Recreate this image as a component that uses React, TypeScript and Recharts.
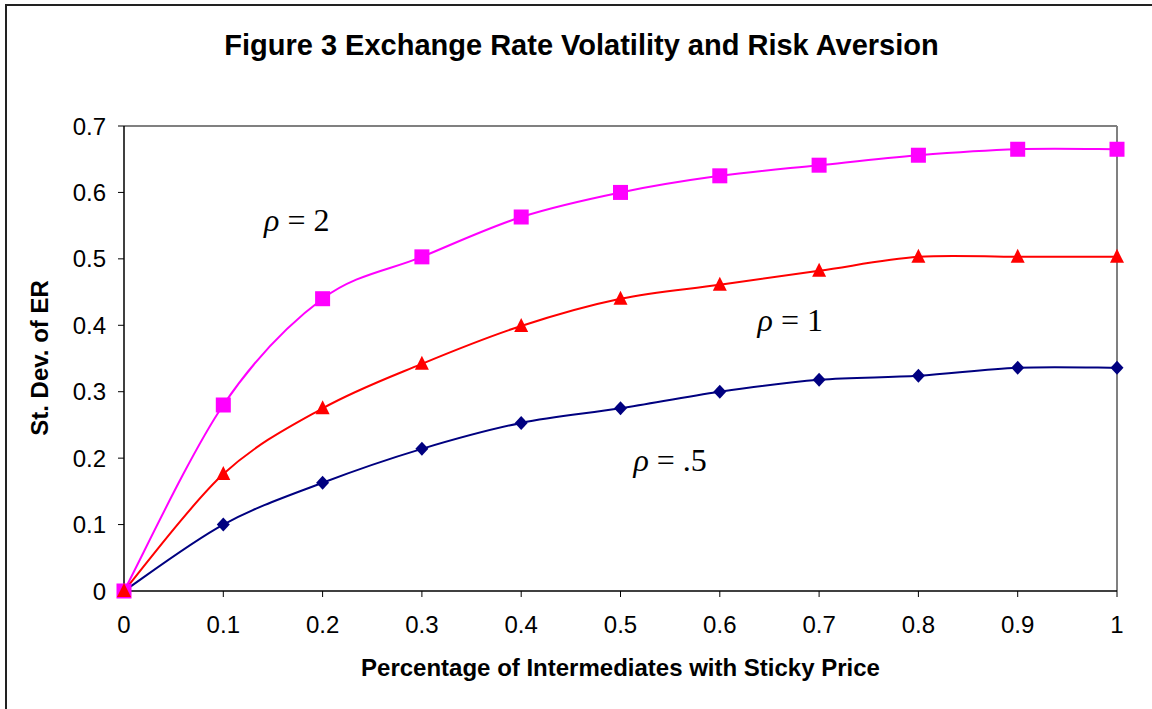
import React from "react";
import { LineChart, Line, XAxis, YAxis, ReferenceLine, ReferenceDot } from "recharts";

// share of intermediates with sticky price
const xValues = [0, 0.1, 0.2, 0.3, 0.4, 0.5, 0.6, 0.7, 0.8, 0.9, 1];
// st. dev. of exchange rate, by risk aversion
const rho2 = [0, 0.28, 0.44, 0.503, 0.563, 0.6, 0.625, 0.641, 0.656, 0.665, 0.665];
const rho1 = [0, 0.176, 0.275, 0.342, 0.399, 0.44, 0.461, 0.482, 0.503, 0.503, 0.503];
const rhoHalf = [0, 0.1, 0.163, 0.214, 0.253, 0.275, 0.3, 0.318, 0.324, 0.336, 0.336];

const xTicks = [0, 0.1, 0.2, 0.3, 0.4, 0.5, 0.6, 0.7, 0.8, 0.9, 1];
const yTicks = [0, 0.1, 0.2, 0.3, 0.4, 0.5, 0.6, 0.7];

const rhoLabels = [
  { x: 0.174, y: 0.558, text: "2" },
  { x: 0.671, y: 0.408, text: "1" },
  { x: 0.55, y: 0.197, text: ".5" },
];

const data = xValues.map((x, i) => ({
  x,
  rho2: rho2[i],
  rho1: rho1[i],
  rhoHalf: rhoHalf[i],
}));

// Excel-like smoothing (Catmull-Rom as cubic beziers)
function excelCurve(context: any) {
  let pts: number[][] = [];
  return {
    areaStart() {},
    areaEnd() {},
    lineStart() {
      pts = [];
    },
    point(x: number, y: number) {
      pts.push([+x, +y]);
    },
    lineEnd() {
      if (!pts.length) return;
      context.moveTo(pts[0][0], pts[0][1]);
      for (let i = 0; i < pts.length - 1; i++) {
        const p0 = pts[i - 1] || pts[i];
        const p1 = pts[i];
        const p2 = pts[i + 1];
        const p3 = pts[i + 2] || pts[i + 1];
        context.bezierCurveTo(
          p1[0] + (p2[0] - p0[0]) / 6,
          p1[1] + (p2[1] - p0[1]) / 6,
          p2[0] - (p3[0] - p1[0]) / 6,
          p2[1] - (p3[1] - p1[1]) / 6,
          p2[0],
          p2[1]
        );
      }
    },
  };
}

const SquareDot = (props: any) => {
  const { cx, cy } = props;
  return <rect key={props.key ?? `${cx}-${cy}`} x={cx - 7.5} y={cy - 7.5} width={15} height={15} fill="#FF00FF" />;
};

const TriangleDot = (props: any) => {
  const { cx, cy } = props;
  return (
    <polygon
      key={props.key ?? `${cx}-${cy}`}
      points={`${cx},${cy - 8} ${cx + 7},${cy + 6} ${cx - 7},${cy + 6}`}
      fill="#FF0000"
    />
  );
};

const DiamondDot = (props: any) => {
  const { cx, cy } = props;
  return (
    <polygon
      key={props.key ?? `${cx}-${cy}`}
      points={`${cx},${cy - 7} ${cx + 6.5},${cy} ${cx},${cy + 7} ${cx - 6.5},${cy}`}
      fill="#000080"
    />
  );
};

const tickStyle = { fill: "#000", fontSize: 24, fontFamily: "Liberation Sans, Arial, sans-serif" };

export default function App() {
  return (
    <div
      style={{
        position: "absolute",
        left: 0,
        top: 0,
        width: 1152,
        height: 709,
        overflow: "hidden",
        background: "#fff",
        fontFamily: "Liberation Sans, Arial, sans-serif",
      }}
    >
      <div
        style={{
          position: "absolute",
          left: 5,
          top: 4,
          width: 1300,
          height: 900,
          border: "2px solid #222",
        }}
      />
      <div
        style={{
          position: "absolute",
          left: 0,
          width: 1163,
          top: 28,
          lineHeight: "34px",
          textAlign: "center",
          fontWeight: "bold",
          fontSize: 29,
        }}
      >
        Figure 3 Exchange Rate Volatility and Risk Aversion
      </div>
      <div
        style={{
          position: "absolute",
          left: 124,
          width: 993,
          top: 654,
          lineHeight: "28px",
          textAlign: "center",
          fontWeight: "bold",
          fontSize: 24,
        }}
      >
        Percentage of Intermediates with Sticky Price
      </div>
      <div
        style={{
          position: "absolute",
          left: 40,
          top: 358,
          lineHeight: "28px",
          transform: "translate(-50%, -50%) rotate(-90deg)",
          whiteSpace: "nowrap",
          fontWeight: "bold",
          fontSize: 24,
        }}
      >
        St. Dev. of ER
      </div>
      <div style={{ position: "absolute", left: 0, top: 0 }}>
        <LineChart width={1152} height={709} data={data} margin={{ top: 126, right: 35, bottom: 88, left: 64 }}>
          <XAxis
            dataKey="x"
            type="number"
            domain={[0, 1]}
            ticks={xTicks}
            tick={tickStyle}
            tickSize={6}
            tickMargin={19}
            height={30}
            axisLine={{ stroke: "#000", strokeWidth: 1.5 }}
            tickLine={{ stroke: "#000" }}
          />
          <YAxis
            type="number"
            domain={[0, 0.7]}
            ticks={yTicks}
            tick={tickStyle}
            tickSize={6}
            tickMargin={12}
            width={60}
            axisLine={{ stroke: "#000", strokeWidth: 1.5 }}
            tickLine={{ stroke: "#000" }}
          />
          <ReferenceLine y={0.7} stroke="#808080" strokeWidth={2} />
          <ReferenceLine x={1} stroke="#808080" strokeWidth={2} />
          <Line
            dataKey="rhoHalf"
            type={excelCurve as any}
            stroke="#000080"
            strokeWidth={2}
            dot={DiamondDot}
            activeDot={false}
            isAnimationActive={false}
          />
          <Line
            dataKey="rho2"
            type={excelCurve as any}
            stroke="#FF00FF"
            strokeWidth={2}
            dot={SquareDot}
            activeDot={false}
            isAnimationActive={false}
          />
          <Line
            dataKey="rho1"
            type={excelCurve as any}
            stroke="#FF0000"
            strokeWidth={2}
            dot={TriangleDot}
            activeDot={false}
            isAnimationActive={false}
          />
          {rhoLabels.map((l) => (
            <ReferenceDot
              key={l.text}
              x={l.x}
              y={l.y}
              r={0}
              shape={(p: any) => (
                <text
                  x={p.cx}
                  y={p.cy}
                  textAnchor="middle"
                  dominantBaseline="central"
                  fontFamily="Liberation Serif, Times New Roman, serif"
                  fontSize={32}
                  fill="#000"
                >
                  <tspan fontStyle="italic">ρ</tspan> = {l.text}
                </text>
              )}
            />
          ))}
        </LineChart>
      </div>
    </div>
  );
}
